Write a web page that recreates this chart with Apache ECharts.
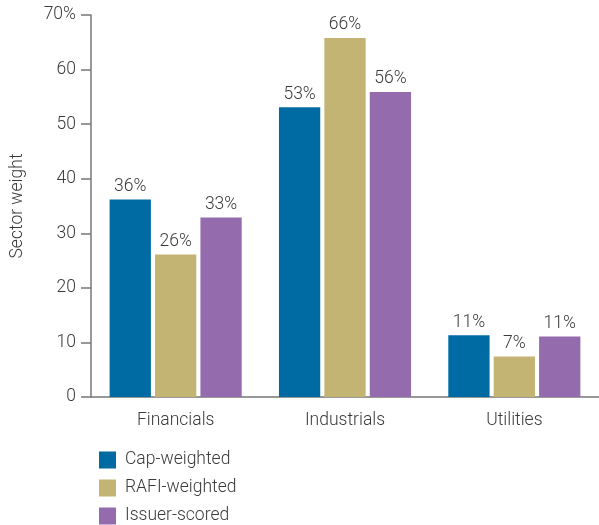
<!DOCTYPE html>
<html><head><meta charset="utf-8">
<script src="https://cdn.jsdelivr.net/npm/echarts@6/dist/echarts.min.js"></script>
<style>html,body{margin:0;padding:0;background:#fff;}#c{width:599px;height:525px;}</style>
</head><body><div id="c"></div>
<script>
var categories = ['Financials', 'Industrials', 'Utilities'];
var capWeighted = [36.2, 53.1, 11.3];
var rafiWeighted = [26.1, 65.8, 7.4];
var issuerScored = [32.9, 55.9, 11.1];
var yTicks = [0, 10, 20, 30, 40, 50, 60, 70];

var font = 'Roboto, "Liberation Sans", sans-serif';
var txt = '#3a3a3a';
var fs = 17.5;
var chart = echarts.init(document.getElementById('c'));
function lbl() {
  return {show: true, position: 'top', distance: 4, color: txt, fontFamily: font, fontSize: fs, fontWeight: 300,
    formatter: function (p) { return Math.round(p.value) + '%'; }};
}
chart.setOption({
  animation: false,
  grid: {left: 91, top: 15, width: 510, height: 382, containLabel: false},
  legend: {
    orient: 'vertical', left: 94, top: 446, height: 80, itemWidth: 17, itemHeight: 17, itemGap: 10,
    icon: 'rect', textStyle: {color: txt, fontFamily: font, fontSize: fs, fontWeight: 300, padding: [0, 0, 0, 4]},
    data: ['Cap-weighted', 'RAFI-weighted', 'Issuer-scored']
  },
  xAxis: {
    type: 'category', data: categories,
    axisLine: {lineStyle: {color: '#777', width: 1.5}},
    axisTick: {show: false},
    axisLabel: {color: txt, fontFamily: font, fontSize: fs, fontWeight: 300, margin: 15}
  },
  yAxis: {
    type: 'value', min: yTicks[0], max: yTicks[yTicks.length - 1], interval: 10,
    name: 'Sector weight', nameLocation: 'middle', nameGap: 64, nameRotate: 90,
    nameTextStyle: {color: txt, fontFamily: font, fontSize: fs, fontWeight: 300},
    axisLine: {show: true, lineStyle: {color: '#777', width: 1.5}},
    axisTick: {show: true, length: 10, lineStyle: {color: '#777', width: 1.5}},
    splitLine: {show: false},
    axisLabel: {color: txt, fontFamily: font, fontSize: fs, fontWeight: 300, margin: 15,
      formatter: function (v) { return v === 70 ? v + '%' : String(v); }}
  },
  series: [
    {name: 'Cap-weighted', type: 'bar', data: capWeighted, itemStyle: {color: '#006ba2'}, barGap: '10%', barCategoryGap: '22%', label: lbl()},
    {name: 'RAFI-weighted', type: 'bar', data: rafiWeighted, itemStyle: {color: '#c4b474'}, label: lbl()},
    {name: 'Issuer-scored', type: 'bar', data: issuerScored, itemStyle: {color: '#946bac'}, label: lbl()}
  ]
});
</script></body></html>
